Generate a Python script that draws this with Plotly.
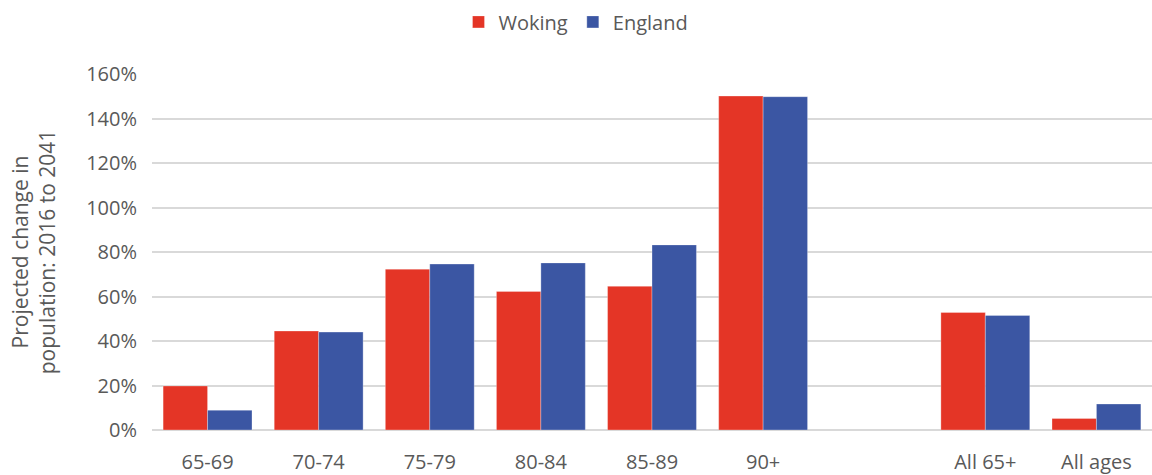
import plotly.graph_objects as go

# Age bands (a blank slot separates the single-year-band groups from the totals)
categories = ["65-69", "70-74", "75-79", "80-84", "85-89", "90+", " ", "All 65+", "All ages"]

# Projected % change in population, 2016 to 2041
woking = [19.8, 44.5, 72.3, 62.3, 64.6, 150.1, None, 52.8, 5.2]
england = [8.9, 44.0, 74.6, 75.1, 83.2, 149.8, None, 51.5, 11.7]

y_ticks = [0, 20, 40, 60, 80, 100, 120, 140, 160]
y_tick_labels = ["0%", "20%", "40%", "60%", "80%", "100%", "120%", "140%", "160%"]

RED = "#E43526"
BLUE = "#3B56A3"
TEXT = "#595959"
GRID = "#D9D9D9"

fig = go.Figure()
fig.add_trace(go.Bar(x=categories, y=woking, name="Woking",
                     marker=dict(color=RED, line=dict(color="rgba(255,255,255,0.5)", width=0.6))))
fig.add_trace(go.Bar(x=categories, y=england, name="England",
                     marker=dict(color=BLUE, line=dict(color="rgba(255,255,255,0.5)", width=0.6))))

fig.update_layout(
    width=1152, height=475,
    margin=dict(l=152, r=0, t=74, b=43),
    paper_bgcolor="white", plot_bgcolor="white",
    font=dict(family="Open Sans", size=20, color=TEXT),
    barmode="group", bargap=0.2, bargroupgap=0,
    showlegend=True,
    legend=dict(orientation="h", xref="container", x=0.5, xanchor="center",
                yref="container", y=0.995, yanchor="top",
                font=dict(size=20, color=TEXT),
                itemwidth=30, traceorder="normal"),
    hovermode=False,
)

fig.update_xaxes(
    type="category", categoryorder="array", categoryarray=categories,
    showgrid=False, showline=False, zeroline=False,
    ticks="outside", ticklen=14, tickcolor="white",
    tickfont=dict(size=20, color=TEXT),
)
fig.update_yaxes(
    range=[0, 160], tickvals=y_ticks, ticktext=y_tick_labels,
    showgrid=True, gridcolor=GRID, gridwidth=1.5,
    zeroline=True, zerolinecolor=GRID, zerolinewidth=1.5,
    showline=False, ticks="", ticklabelstandoff=14,
    tickfont=dict(size=20, color=TEXT),
    title=dict(text="Projected change in<br>population: 2016 to 2041",
               font=dict(size=21, color=TEXT), standoff=24),
)

fig.write_html("out.html")
